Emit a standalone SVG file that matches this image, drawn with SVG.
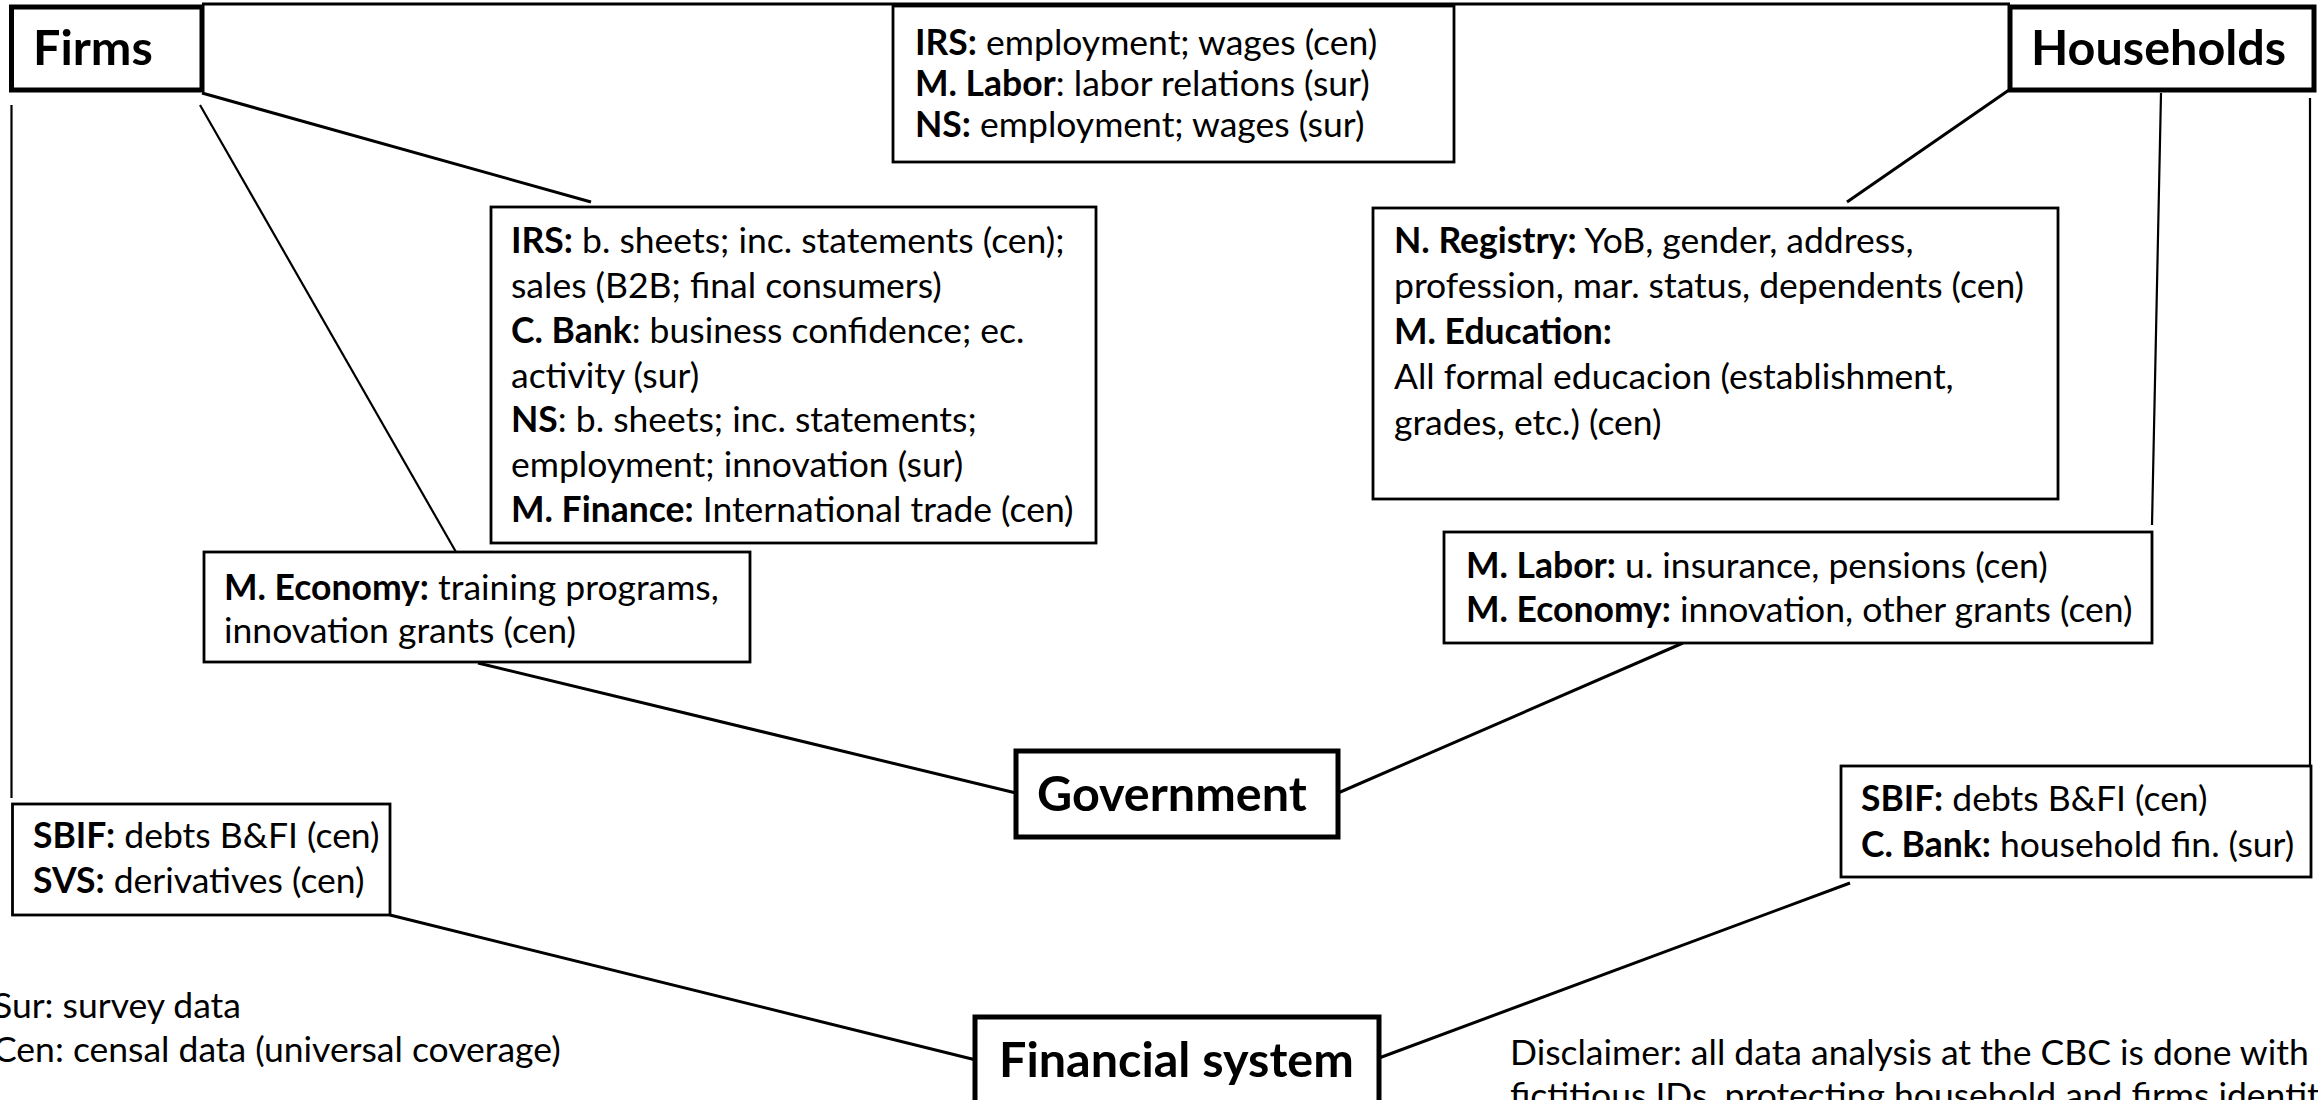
<svg xmlns="http://www.w3.org/2000/svg" width="2318" height="1100" viewBox="0 0 2318 1100">
  <style>
    .bg { fill: #ffffff; }
    .title-box { fill: #ffffff; stroke: #000000; stroke-width: 5; }
    .info-box { fill: #ffffff; stroke: #000000; stroke-width: 2.8; }
    .title { font-family: Lato, "Liberation Sans", sans-serif; font-weight: 700; font-size: 48.5px; fill: #000000; }
    .body { font-family: Lato, "Liberation Sans", sans-serif; font-size: 35.5px; fill: #000000; }
    .b { font-weight: 700; }
    .link { stroke: #000000; stroke-width: 3; fill: none; }
    .link-thin { stroke: #000000; stroke-width: 2.2; fill: none; }
  </style>
  <rect class="bg" x="0" y="0" width="2318" height="1100"/>

  <!-- connectors -->
  <g id="connectors">
    <line class="link" x1="202" y1="4" x2="2010" y2="4"/>
    <line class="link-thin" x1="11.5" y1="105" x2="11.5" y2="798"/>
    <line class="link" x1="202" y1="93" x2="591" y2="202"/>
    <line class="link-thin" x1="200" y1="105" x2="456" y2="552"/>
    <line class="link" x1="478" y1="663" x2="1016" y2="793"/>
    <line class="link" x1="1338" y1="793" x2="1683" y2="643"/>
    <line class="link" x1="2009" y1="90" x2="1847" y2="202"/>
    <line class="link-thin" x1="2161" y1="93" x2="2152" y2="525"/>
    <line class="link-thin" x1="2310" y1="98" x2="2310" y2="779"/>
    <line class="link" x1="390" y1="915" x2="976" y2="1060"/>
    <line class="link" x1="1379" y1="1058" x2="1850" y2="883"/>
  </g>

  <!-- sector nodes -->
  <g id="firms">
    <rect class="title-box" x="11.5" y="7" width="190.5" height="83"/>
    <text class="title" x="33" y="65">Firms</text>
  </g>
  <g id="households">
    <rect class="title-box" x="2010" y="7" width="304" height="83"/>
    <text class="title" x="2031" y="65">Households</text>
  </g>
  <g id="government">
    <rect class="title-box" x="1016" y="751" width="322" height="86"/>
    <text class="title" x="1037" y="811">Government</text>
  </g>
  <g id="financial-system">
    <rect class="title-box" x="975" y="1017" width="404" height="100"/>
    <text class="title" x="999" y="1077">Financial system</text>
  </g>

  <!-- data source boxes -->
  <g id="firms-households-labor">
    <rect class="info-box" x="893" y="6" width="561" height="156"/>
    <text class="body" x="915" y="55"><tspan class="b">IRS:</tspan> employment; wages (cen)</text>
    <text class="body" x="915" y="96"><tspan class="b">M. Labor</tspan>: labor relations (sur)</text>
    <text class="body" x="915" y="137"><tspan class="b">NS:</tspan> employment; wages (sur)</text>
  </g>

  <g id="firms-data">
    <rect class="info-box" x="491" y="207" width="605" height="336"/>
    <text class="body" x="511" y="253"><tspan class="b">IRS:</tspan> b. sheets; inc. statements (cen);</text>
    <text class="body" x="511" y="298">sales (B2B; final consumers)</text>
    <text class="body" x="511" y="343"><tspan class="b">C. Bank</tspan>: business confidence; ec.</text>
    <text class="body" x="511" y="388">activity (sur)</text>
    <text class="body" x="511" y="432"><tspan class="b">NS</tspan>: b. sheets; inc. statements;</text>
    <text class="body" x="511" y="477">employment; innovation (sur)</text>
    <text class="body" x="511" y="522"><tspan class="b">M. Finance:</tspan> International trade (cen)</text>
  </g>

  <g id="firms-government">
    <rect class="info-box" x="204" y="552" width="546" height="110"/>
    <text class="body" x="224" y="600"><tspan class="b">M. Economy:</tspan> training programs,</text>
    <text class="body" x="224" y="643">innovation grants (cen)</text>
  </g>

  <g id="households-data">
    <rect class="info-box" x="1373" y="208" width="685" height="291"/>
    <text class="body" x="1394" y="253"><tspan class="b">N. Registry:</tspan> YoB, gender, address,</text>
    <text class="body" x="1394" y="298">profession, mar. status, dependents (cen)</text>
    <text class="body" x="1394" y="344"><tspan class="b">M. Education:</tspan></text>
    <text class="body" x="1394" y="389">All formal educacion (establishment,</text>
    <text class="body" x="1394" y="435">grades, etc.) (cen)</text>
  </g>

  <g id="households-government">
    <rect class="info-box" x="1444" y="532" width="708" height="111"/>
    <text class="body" x="1466" y="578"><tspan class="b">M. Labor:</tspan> u. insurance, pensions (cen)</text>
    <text class="body" x="1466" y="622"><tspan class="b">M. Economy:</tspan> innovation, other grants (cen)</text>
  </g>

  <g id="firms-finance">
    <rect class="info-box" x="12.5" y="804" width="377.5" height="111"/>
    <text class="body" x="33" y="848"><tspan class="b">SBIF:</tspan> debts B&amp;FI (cen)</text>
    <text class="body" x="33" y="893"><tspan class="b">SVS:</tspan> derivatives (cen)</text>
  </g>

  <g id="households-finance">
    <rect class="info-box" x="1841" y="766" width="470" height="111"/>
    <text class="body" x="1861" y="811"><tspan class="b">SBIF:</tspan> debts B&amp;FI (cen)</text>
    <text class="body" x="1861" y="857"><tspan class="b">C. Bank:</tspan> household fin. (sur)</text>
  </g>

  <!-- legend and disclaimer -->
  <g id="legend">
    <text class="body" x="-7" y="1018">Sur: survey data</text>
    <text class="body" x="-7" y="1062">Cen: censal data (universal coverage)</text>
  </g>
  <g id="disclaimer">
    <text class="body" x="1510" y="1065">Disclaimer: all data analysis at the CBC is done with</text>
    <text class="body" x="1510" y="1108">fictitious IDs, protecting household and firms identities</text>
  </g>
</svg>
